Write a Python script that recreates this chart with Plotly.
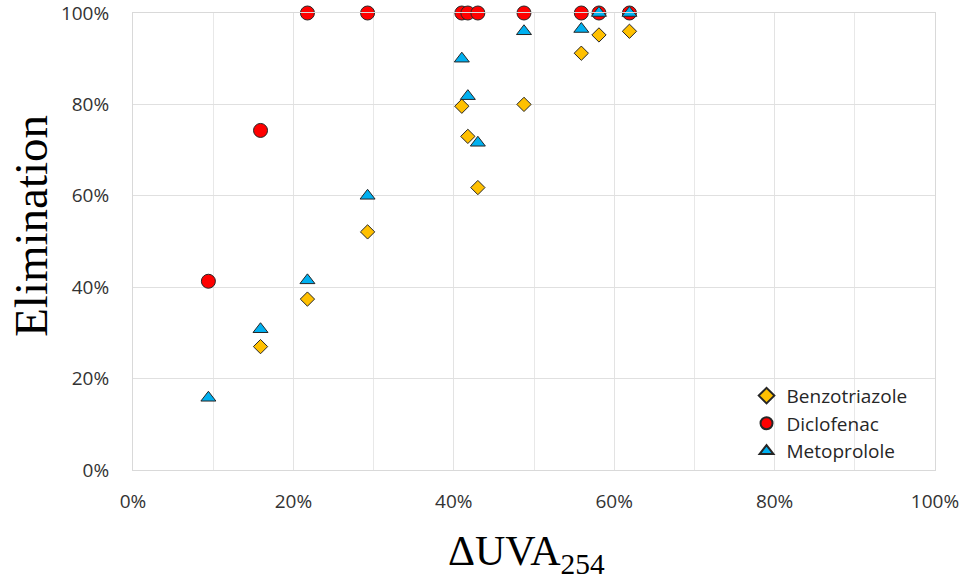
import plotly.graph_objects as go

# Data (fractions)
duva = [0.094, 0.159, 0.2175, 0.2925, 0.41, 0.4175, 0.43, 0.4875, 0.559, 0.581, 0.619]
benzotriazole = [None, 0.27, 0.374, 0.521, 0.796, 0.73, 0.618, 0.80, 0.912, 0.952, 0.96]
diclofenac = [0.413, 0.743, 1.0, 1.0, 1.0, 1.0, 1.0, 1.0, 1.0, 1.0, 1.0]
metoprolole = [0.158, 0.308, 0.415, 0.60, 0.90, 0.818, 0.716, 0.96, 0.965, 1.0, 1.0]

x_ticks = [0, 0.2, 0.4, 0.6, 0.8, 1.0]
y_ticks = [0, 0.2, 0.4, 0.6, 0.8, 1.0]

fig = go.Figure()
fig.add_trace(go.Scatter(
    x=duva, y=benzotriazole, mode="markers", name="Benzotriazole",
    marker=dict(symbol="diamond", size=11, color="#FFC000",
                line=dict(color="#262626", width=1)),
    cliponaxis=False))
fig.add_trace(go.Scatter(
    x=duva, y=diclofenac, mode="markers", name="Diclofenac",
    marker=dict(symbol="circle", size=14, color="#FF0000",
                line=dict(color="#262626", width=1)),
    cliponaxis=False))
fig.add_trace(go.Scatter(
    x=duva, y=metoprolole, mode="markers", name="Metoprolole",
    marker=dict(symbol="triangle-up", size=13, color="#00B0F0",
                line=dict(color="#262626", width=1)),
    cliponaxis=False))

fig.update_layout(
    width=961, height=585,
    margin=dict(l=133, r=26, t=13, b=115, autoexpand=False),
    paper_bgcolor="white", plot_bgcolor="white",
    font=dict(family="Open Sans, Liberation Sans, sans-serif", size=19, color="#333333"),
    showlegend=True,
    legend=dict(x=0.765, y=0.204, xanchor="left", yanchor="top",
                bgcolor="rgba(0,0,0,0)", font=dict(size=19, color="#262626"),
                itemsizing="constant", tracegroupgap=0, itemwidth=30),
    xaxis=dict(range=[0, 1], tickvals=x_ticks, tickformat=".0%",
               showgrid=True, gridcolor="#e3e3e3", gridwidth=1, zeroline=False,
               showline=True, linecolor="#d9d9d9", linewidth=1, mirror=True,
               ticks="", ticklabelstandoff=14, automargin=False,
               ticklabeloverflow="allow",
               minor=dict(dtick=0.1, showgrid=True, gridcolor="#e8e8e8", gridwidth=1)),
    yaxis=dict(range=[0, 1], tickvals=y_ticks, tickformat=".0%",
               showgrid=True, gridcolor="#e0e0e0", gridwidth=1, zeroline=False,
               showline=True, linecolor="#d9d9d9", linewidth=1, mirror=True,
               ticks="", ticklabelstandoff=19, automargin=False,
               ticklabeloverflow="allow"),
    annotations=[
        dict(text="ΔUVA<sub>254</sub>", x=0.491, y=-0.183, xref="paper", yref="paper",
             xanchor="center", yanchor="middle", showarrow=False,
             font=dict(family="Liberation Serif, DejaVu Serif, serif", size=42, color="black")),
        dict(text="Elimination", x=-0.128, y=0.535, xref="paper", yref="paper",
             xanchor="center", yanchor="middle", textangle=-90, showarrow=False,
             font=dict(family="Liberation Serif, DejaVu Serif, serif", size=47, color="black")),
    ],
)

fig.write_html("out.html")
